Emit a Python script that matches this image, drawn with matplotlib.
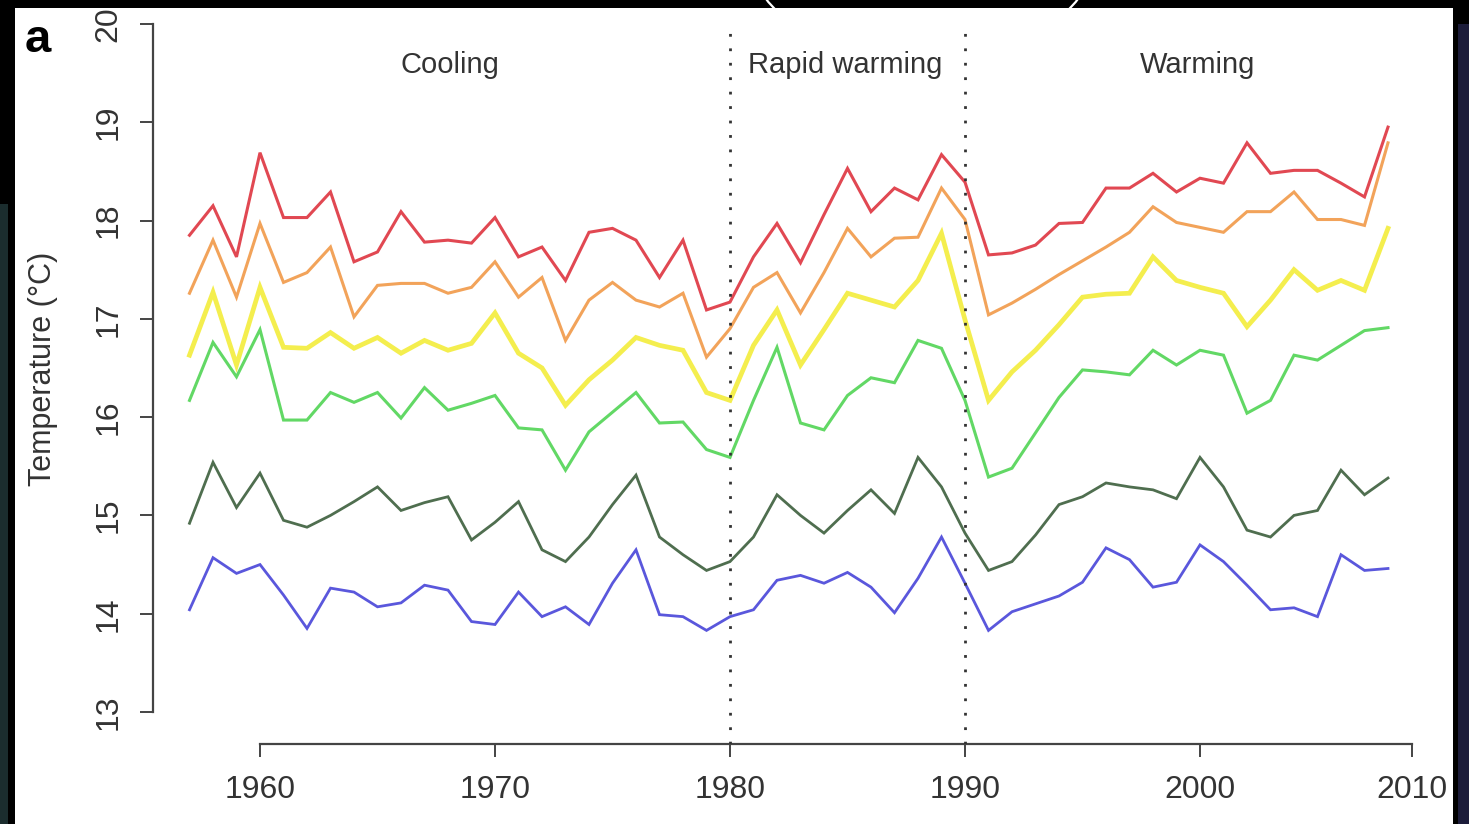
import matplotlib
matplotlib.use("Agg")
import matplotlib.pyplot as plt
from matplotlib.patches import Rectangle, Ellipse
from matplotlib.transforms import IdentityTransform, Bbox
import numpy as np

years = list(range(1957, 2009))

red = [17.85, 18.15, 17.63, 18.69, 18.03, 18.03, 18.29, 17.58, 17.68, 18.09, 17.78, 17.80, 17.77,
       18.03, 17.63, 17.73, 17.39, 17.88, 17.92, 17.80, 17.42, 17.80, 17.09,
       17.17, 17.63, 17.97, 17.57, 18.06, 18.53, 18.09, 18.33, 18.21, 18.67,
       18.39, 17.65, 17.67, 17.75, 17.97, 17.98, 18.33, 18.33, 18.48, 18.29,
       18.43, 18.38, 18.79, 18.48, 18.51, 18.51, 18.38, 18.24, 18.95]
orange = [17.26, 17.80, 17.22, 17.97, 17.37, 17.47, 17.73, 17.02, 17.34, 17.36, 17.36, 17.26, 17.32,
          17.58, 17.22, 17.42, 16.78, 17.19, 17.37, 17.19, 17.12, 17.26, 16.61,
          16.90, 17.32, 17.47, 17.06, 17.47, 17.92, 17.63, 17.82, 17.83, 18.33,
          18.01, 17.04, 17.16, 17.30, 17.45, 17.59, 17.73, 17.88, 18.14, 17.98,
          17.93, 17.88, 18.09, 18.09, 18.29, 18.01, 18.01, 17.95, 18.79]
yellow = [16.63, 17.27, 16.53, 17.32, 16.71, 16.70, 16.86, 16.70, 16.81, 16.65, 16.78, 16.68, 16.75,
          17.06, 16.65, 16.50, 16.12, 16.38, 16.58, 16.81, 16.73, 16.68, 16.25,
          16.17, 16.73, 17.09, 16.53, 16.89, 17.26, 17.19, 17.12, 17.39, 17.87,
          16.99, 16.17, 16.46, 16.68, 16.94, 17.22, 17.25, 17.26, 17.63, 17.39,
          17.32, 17.26, 16.92, 17.19, 17.50, 17.29, 17.39, 17.29, 17.92]
green = [16.17, 16.76, 16.41, 16.89, 15.97, 15.97, 16.25, 16.15, 16.25, 15.99, 16.30, 16.07, 16.14,
         16.22, 15.89, 15.87, 15.46, 15.85, 16.05, 16.25, 15.94, 15.95, 15.67,
         15.59, 16.17, 16.71, 15.94, 15.87, 16.22, 16.40, 16.35, 16.78, 16.70,
         16.17, 15.39, 15.48, 15.84, 16.20, 16.48, 16.46, 16.43, 16.68, 16.53,
         16.68, 16.63, 16.04, 16.17, 16.63, 16.58, 16.73, 16.88, 16.91]
darkgreen = [14.92, 15.54, 15.08, 15.43, 14.95, 14.88, 15.00, 15.14, 15.29, 15.05, 15.13, 15.19, 14.75,
             14.93, 15.14, 14.65, 14.53, 14.78, 15.11, 15.41, 14.78, 14.60, 14.44,
             14.53, 14.78, 15.21, 15.00, 14.82, 15.05, 15.26, 15.02, 15.59, 15.29,
             14.82, 14.44, 14.53, 14.80, 15.11, 15.19, 15.33, 15.29, 15.26, 15.17,
             15.59, 15.29, 14.85, 14.78, 15.00, 15.05, 15.46, 15.21, 15.38]
blue = [14.04, 14.57, 14.41, 14.50, 14.19, 13.85, 14.26, 14.22, 14.07, 14.11, 14.29, 14.24, 13.92,
        13.89, 14.22, 13.97, 14.07, 13.89, 14.31, 14.65, 13.99, 13.97, 13.83,
        13.97, 14.04, 14.34, 14.39, 14.31, 14.42, 14.27, 14.01, 14.36, 14.78,
        14.31, 13.83, 14.02, 14.10, 14.18, 14.32, 14.67, 14.55, 14.27, 14.32,
        14.70, 14.53, 14.29, 14.04, 14.06, 13.97, 14.60, 14.44, 14.46]

series = [red, orange, yellow, green, darkgreen, blue]
colors = ["#e14852", "#f2a35a", "#f4ee4e", "#62d865", "#4f6e4f", "#5a57dc"]
widths = [2.2, 2.2, 3.4, 2.2, 2.0, 2.0]

periods = ["Cooling", "Rapid warming", "Warming"]
period_x = [1968.1, 1984.9, 1999.9]
breaks = [1980, 1990]
xticks = [1960, 1970, 1980, 1990, 2000, 2010]
yticks = [13, 14, 15, 16, 17, 18, 19, 20]

W, H = 1469, 824
fig = plt.figure(figsize=(W / 100, H / 100), dpi=100)
fig.patch.set_facecolor("black")

# white panel and side tints
fig.add_artist(Rectangle((15, 0), 1438, 816, transform=IdentityTransform(),
                         facecolor="white", edgecolor="none", zorder=-5))
fig.add_artist(Rectangle((0, 0), 8, 620, transform=IdentityTransform(),
                         facecolor="#1b2d2e", edgecolor="none", zorder=-5))
fig.add_artist(Rectangle((1458, 0), 11, 800, transform=IdentityTransform(),
                         facecolor="#1c1c3a", edgecolor="none", zorder=-5))
arc = Ellipse((922, 864), 340, 196, transform=IdentityTransform(),
              fill=False, edgecolor="white", lw=1.6, zorder=5)
fig.add_artist(arc)
arc.set_clip_box(Bbox([[0, 816], [W, H]]))

FONT = ["Liberation Sans Narrow", "Liberation Sans", "DejaVu Sans"]
TXT = "#333333"

# x axis: linear through the data (last year 2008); the source figure draws the
# empty stretch after the data (up to the 2010 tick) shorter, reproduced here.
LAST = 2008.0
K = 0.51


def fwd(x):
    x = np.asarray(x, dtype=float)
    return np.where(x <= LAST, x, LAST + (x - LAST) * K)


def inv(u):
    u = np.asarray(u, dtype=float)
    return np.where(u <= LAST, u, LAST + (u - LAST) / K)


slope = 23.5          # px per year
u0 = 1960 + (153 - 260) / slope
u1 = 1960 + (1453 - 260) / slope
ppu = 98.3
ytop = 13 + (712 - 8) / ppu
ybot = 13 + (712 - 744) / ppu

ax = fig.add_axes([153 / W, (H - 744) / H, 1300 / W, 736 / H])
ax.set_facecolor("none")
ax.set_xscale("function", functions=(fwd, inv))
ax.set_xlim(float(inv(u0)), float(inv(u1)))
ax.set_ylim(ybot, ytop)

for s, c, lw in zip(series, colors, widths):
    ax.plot(years, s, color=c, lw=lw, solid_joinstyle="miter", zorder=3)

ytop_line = 13 + (712 - 22) / ppu
for b in breaks:
    ax.plot([b, b], [ybot, ytop_line], color="#333333", lw=2.0,
            linestyle=(0, (1, 4.2)), dash_capstyle="butt", zorder=4)

ylab_y = 13 + (712 - 65) / ppu
for name, px in zip(periods, period_x):
    ax.text(px, ylab_y, name, ha="center", va="center", fontsize=21,
            family=FONT, color=TXT)

for sp in ["top", "right"]:
    ax.spines[sp].set_visible(False)
ax.spines["left"].set_bounds(13, 20)
ax.spines["bottom"].set_bounds(1960, 2010)
for sp in ["left", "bottom"]:
    ax.spines[sp].set_color("#444444")
    ax.spines[sp].set_linewidth(1.6)

ax.set_xticks(xticks)
ax.set_xticklabels([str(t) for t in xticks], family=FONT, fontsize=23, color=TXT)
ax.xaxis.set_minor_locator(matplotlib.ticker.NullLocator())
ax.set_yticks(yticks)
ax.set_yticklabels([str(t) for t in yticks], family=FONT, fontsize=23, color=TXT,
                   rotation=90, va="center")
ax.tick_params(axis="both", length=9.5, width=1.4, color="#444444")
ax.tick_params(axis="x", pad=13)
ax.tick_params(axis="y", pad=12)

ax.set_ylabel("Temperature (°C)", family=FONT, fontsize=22, color=TXT)
ax.yaxis.set_label_coords((58 - 153) / 1300, (744 - 369) / 736)

fig.text(25 / W, (H - 52) / H, "a", family=["Liberation Sans", "DejaVu Sans"],
         fontsize=34, fontweight="bold", color="black", ha="left", va="baseline")

fig.savefig("out.png", dpi=100, facecolor=fig.get_facecolor())
